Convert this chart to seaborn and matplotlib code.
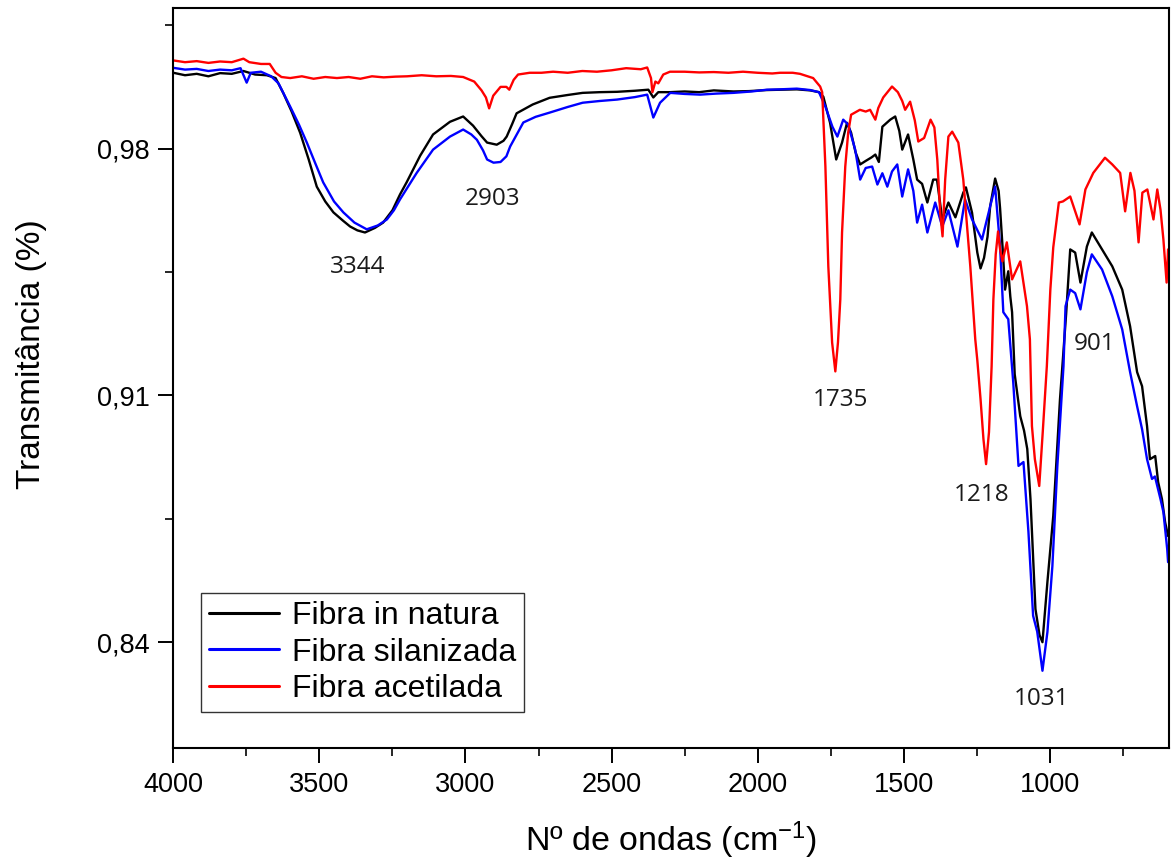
import matplotlib
matplotlib.use("Agg")
import matplotlib.pyplot as plt
import seaborn as sns
import pandas as pd
from matplotlib.ticker import FixedLocator, FuncFormatter

# ---------------- data ----------------
series_names = ["Fibra in natura", "Fibra silanizada", "Fibra acetilada"]
series_colors = ["#000000", "#0000FF", "#FF0000"]

wn_natura = [4000, 3960, 3920, 3880, 3840, 3800, 3760, 3720, 3680, 3650, 3624, 3595, 3566, 3537, 3509,
             3480, 3452, 3420, 3395, 3370, 3344, 3310, 3282, 3250, 3224, 3201, 3155, 3111, 3053, 3008,
             2974, 2945, 2926, 2893, 2870, 2859, 2840, 2825, 2770, 2712, 2650, 2599, 2540, 2481, 2420,
             2374, 2357, 2340, 2300, 2250, 2200, 2150, 2083, 2030, 1968, 1923, 1866, 1820, 1790, 1775,
             1752, 1731, 1711, 1694, 1680, 1665, 1649, 1630, 1610, 1597, 1585, 1573, 1546, 1529, 1515,
             1505, 1485, 1467, 1454, 1437, 1419, 1399, 1386, 1368, 1347, 1323, 1296, 1287, 1266, 1248,
             1237, 1225, 1213, 1204, 1187, 1175, 1170, 1160, 1153, 1142, 1135, 1129, 1120, 1101, 1088,
             1077, 1066, 1049, 1035, 1025, 1008, 988, 965, 944, 930, 913, 895, 873, 856, 821,
             786, 752, 725, 701, 684, 667, 657, 639, 629, 616, 605, 595]
t_natura = [1.0015, 1.0008, 1.0012, 1.0005, 1.0014, 1.0012, 1.0020, 1.0010, 1.0008, 1.0000, 0.9958, 0.9905, 0.9845, 0.9770, 0.9692,
            0.9650, 0.9619, 0.9596, 0.9579, 0.9568, 0.9562, 0.9575, 0.9590, 0.9625, 0.9670, 0.9705, 0.9780, 0.9840, 0.9876, 0.9891,
            0.9865, 0.9835, 0.9817, 0.9811, 0.9822, 0.9834, 0.9870, 0.9900, 0.9925, 0.9944, 0.9952, 0.9958, 0.9960, 0.9961, 0.9964,
            0.9967, 0.9945, 0.9960, 0.9960, 0.9962, 0.9960, 0.9965, 0.9962, 0.9963, 0.9966, 0.9967, 0.9968, 0.9965, 0.9960, 0.9947,
            0.9873, 0.9769, 0.9817, 0.9873, 0.9845, 0.9790, 0.9755, 0.9765, 0.9775, 0.9783, 0.9762, 0.9862, 0.9882, 0.9891, 0.9850,
            0.9797, 0.9840, 0.9769, 0.9712, 0.9700, 0.9647, 0.9712, 0.9712, 0.9599, 0.9647, 0.9605, 0.9675, 0.9690, 0.9618, 0.9505,
            0.9460, 0.9490, 0.9550, 0.9636, 0.9715, 0.9680, 0.9630, 0.9500, 0.9400, 0.9452, 0.9380, 0.9336, 0.9160, 0.9041, 0.9000,
            0.8948, 0.8806, 0.8494, 0.8420, 0.8400, 0.8571, 0.8758, 0.9089, 0.9330, 0.9514, 0.9505, 0.9420, 0.9522, 0.9562, 0.9514,
            0.9466, 0.9400, 0.9296, 0.9166, 0.9126, 0.9013, 0.8919, 0.8928, 0.8854, 0.8806, 0.8740, 0.8701]

wn_silan = [4000, 3960, 3920, 3880, 3840, 3800, 3770, 3749, 3735, 3700, 3665, 3640, 3600, 3570, 3543,
            3515, 3487, 3450, 3418, 3380, 3338, 3300, 3269, 3245, 3224, 3167, 3111, 3053, 3008, 2980,
            2961, 2940, 2926, 2904, 2880, 2860, 2847, 2802, 2760, 2712, 2650, 2599, 2540, 2481, 2420,
            2378, 2357, 2334, 2299, 2250, 2197, 2140, 2083, 2020, 1968, 1923, 1866, 1820, 1790, 1768,
            1744, 1727, 1707, 1690, 1666, 1649, 1630, 1608, 1590, 1573, 1556, 1540, 1522, 1505, 1485,
            1467, 1454, 1437, 1419, 1392, 1368, 1347, 1316, 1290, 1266, 1232, 1204, 1187, 1170, 1159,
            1142, 1125, 1107, 1090, 1073, 1057, 1043, 1025, 1008, 991, 974, 953, 946, 930, 913,
            895, 873, 856, 821, 786, 752, 725, 701, 684, 667, 650, 640, 621, 611, 598, 595]
t_silan = [1.0029, 1.0024, 1.0026, 1.0020, 1.0024, 1.0022, 1.0028, 0.9987, 1.0015, 1.0018, 1.0005, 0.9985, 0.9919, 0.9868, 0.9817,
           0.9760, 0.9704, 0.9650, 0.9619, 0.9590, 0.9571, 0.9582, 0.9599, 0.9625, 0.9656, 0.9731, 0.9797, 0.9834, 0.9854, 0.9840,
           0.9825, 0.9795, 0.9769, 0.9760, 0.9762, 0.9778, 0.9806, 0.9874, 0.9890, 0.9902, 0.9918, 0.9930, 0.9935, 0.9939, 0.9946,
           0.9953, 0.9888, 0.9930, 0.9958, 0.9955, 0.9953, 0.9956, 0.9958, 0.9962, 0.9967, 0.9968, 0.9970, 0.9966, 0.9960, 0.9919,
           0.9862, 0.9834, 0.9882, 0.9868, 0.9797, 0.9712, 0.9745, 0.9749, 0.9698, 0.9730, 0.9692, 0.9735, 0.9755, 0.9664, 0.9741,
           0.9680, 0.9590, 0.9641, 0.9562, 0.9647, 0.9579, 0.9625, 0.9522, 0.9656, 0.9599, 0.9542, 0.9636, 0.9692, 0.9522, 0.9336,
           0.9316, 0.9137, 0.8900, 0.8911, 0.8713, 0.8475, 0.8430, 0.8319, 0.8429, 0.8616, 0.8900, 0.9183, 0.9353, 0.9400, 0.9390,
           0.9344, 0.9449, 0.9500, 0.9457, 0.9381, 0.9287, 0.9166, 0.9069, 0.9004, 0.8919, 0.8863, 0.8870, 0.8806, 0.8769, 0.8664, 0.8627]

wn_acet = [4000, 3960, 3920, 3880, 3840, 3800, 3760, 3740, 3700, 3670, 3650, 3630, 3600, 3560, 3520,
           3480, 3440, 3400, 3360, 3320, 3280, 3240, 3200, 3150, 3100, 3050, 3008, 2970, 2945, 2930,
           2919, 2905, 2880, 2860, 2850, 2835, 2820, 2780, 2740, 2700, 2650, 2600, 2550, 2500, 2450,
           2400, 2378, 2365, 2360, 2350, 2340, 2323, 2300, 2250, 2200, 2150, 2100, 2050, 2000, 1950,
           1923, 1880, 1855, 1810, 1786, 1779, 1768, 1758, 1745, 1734, 1725, 1717, 1711, 1700, 1690,
           1680, 1650, 1630, 1615, 1597, 1587, 1570, 1540, 1520, 1505, 1495, 1478, 1462, 1450, 1430,
           1408, 1395, 1385, 1375, 1367, 1358, 1347, 1334, 1313, 1296, 1272, 1255, 1248, 1237, 1227,
           1218, 1208, 1199, 1193, 1185, 1177, 1170, 1162, 1147, 1129, 1101, 1078, 1068, 1061, 1051,
           1036, 1024, 1010, 998, 988, 969, 955, 930, 898, 878, 851, 811, 786, 759, 742,
           724, 710, 696, 683, 666, 645, 632, 621, 611, 600, 595]
t_acet = [1.0050, 1.0045, 1.0048, 1.0043, 1.0047, 1.0045, 1.0055, 1.0045, 1.0040, 1.0040, 1.0015, 1.0003, 1.0000, 1.0005, 0.9998,
          1.0003, 1.0000, 1.0003, 0.9998, 1.0005, 1.0002, 1.0004, 1.0005, 1.0008, 1.0005, 1.0006, 1.0003, 0.9990, 0.9965, 0.9945,
          0.9914, 0.9950, 0.9975, 0.9975, 0.9967, 0.9995, 1.0010, 1.0015, 1.0015, 1.0018, 1.0015, 1.0020, 1.0018, 1.0022, 1.0028,
          1.0025, 1.0030, 1.0000, 0.9960, 0.9990, 0.9985, 1.0010, 1.0018, 1.0018, 1.0016, 1.0017, 1.0015, 1.0018, 1.0015, 1.0013,
          1.0015, 1.0015, 1.0012, 1.0000, 0.9976, 0.9960, 0.9749, 0.9466, 0.9250, 0.9168, 0.9250, 0.9372, 0.9562, 0.9749, 0.9845,
          0.9896, 0.9910, 0.9905, 0.9910, 0.9882, 0.9915, 0.9945, 0.9976, 0.9960, 0.9935, 0.9910, 0.9933, 0.9880, 0.9820, 0.9830,
          0.9882, 0.9860, 0.9769, 0.9618, 0.9551, 0.9712, 0.9834, 0.9848, 0.9817, 0.9712, 0.9466, 0.9259, 0.9200, 0.9090, 0.8976,
          0.8905, 0.8996, 0.9183, 0.9372, 0.9500, 0.9565, 0.9514, 0.9480, 0.9534, 0.9429, 0.9480, 0.9353, 0.9259, 0.9013, 0.8919,
          0.8843, 0.8996, 0.9183, 0.9400, 0.9520, 0.9647, 0.9650, 0.9664, 0.9585, 0.9684, 0.9731, 0.9774, 0.9755, 0.9731, 0.9622,
          0.9731, 0.9680, 0.9534, 0.9675, 0.9684, 0.9599, 0.9684, 0.9627, 0.9542, 0.9420, 0.9514]

peak_labels = ["3344", "2903", "1735", "1218", "1031", "901"]
peak_label_x = [3369, 2909, 1717, 1234, 1029, 848]
peak_label_y = [0.9464, 0.9658, 0.9086, 0.8817, 0.8238, 0.9245]

x_major = [4000, 3500, 3000, 2500, 2000, 1500, 1000]
x_minor = [3750, 3250, 2750, 2250, 1750, 1250, 750]
y_major = [0.84, 0.91, 0.98]
y_minor = [0.875, 0.945, 1.015]

# ---------------- figure ----------------
sns.set_theme(style="ticks")
plt.rcParams["font.family"] = ["Liberation Sans", "DejaVu Sans"]
plt.rcParams["mathtext.fontset"] = "custom"
plt.rcParams["mathtext.rm"] = "Liberation Sans"
plt.rcParams["mathtext.it"] = "Liberation Sans:italic"
plt.rcParams["text.color"] = "black"
plt.rcParams["axes.labelcolor"] = "black"

frames = []
for name, wn, t in [(series_names[0], wn_natura, t_natura),
                    (series_names[1], wn_silan, t_silan),
                    (series_names[2], wn_acet, t_acet)]:
    frames.append(pd.DataFrame({"wn": wn, "T": t, "amostra": name}))
df = pd.concat(frames, ignore_index=True)

fig = plt.figure(figsize=(11.72, 8.67), dpi=100)
ax = fig.add_axes([0.1479, 0.1373, 0.9974 - 0.1479, 0.9913 - 0.1373])

sns.lineplot(data=df, x="wn", y="T", hue="amostra", hue_order=series_names,
             palette=dict(zip(series_names, series_colors)), sort=False,
             estimator=None, linewidth=1.7, ax=ax, legend=False)

ax.set_xlim(4000, 592)
ax.set_ylim(0.81, 1.02)

ax.xaxis.set_major_locator(FixedLocator(x_major))
ax.xaxis.set_minor_locator(FixedLocator(x_minor))
ax.yaxis.set_major_locator(FixedLocator(y_major))
ax.yaxis.set_minor_locator(FixedLocator(y_minor))
ax.yaxis.set_major_formatter(FuncFormatter(lambda v, p: f"{v:.2f}".replace(".", ",")))
ax.xaxis.set_major_formatter(FuncFormatter(lambda v, p: f"{int(round(v))}"))

ax.tick_params(axis="both", which="major", direction="out", length=11, width=1.4,
               labelsize=19.5, colors="black", pad=6)
ax.tick_params(axis="both", which="minor", direction="out", length=6, width=1.4)
ax.tick_params(top=False, right=False, which="both")
for s in ax.spines.values():
    s.set_visible(True)
    s.set_linewidth(1.5)
    s.set_color("black")

ax.set_xlabel("Nº de ondas (cm$^{-1}$)", fontsize=24.5, labelpad=16)
ax.set_ylabel("Transmitância (%)", fontsize=24)
ax.yaxis.set_label_coords(-0.127, 0.532)

for lbl, lx, ly in zip(peak_labels, peak_label_x, peak_label_y):
    ax.text(lx, ly, lbl, fontsize=17.5, family=["Open Sans", "DejaVu Sans"],
            ha="center", va="center", color="#1a1a1a")

handles = [plt.Line2D([], [], color=c, linewidth=2.2) for c in series_colors]
leg = ax.legend(handles, series_names, loc="lower left", bbox_to_anchor=(0.0278, 0.0486),
                borderaxespad=0, fontsize=23, frameon=True, fancybox=False,
                edgecolor="#333333", framealpha=1, handlelength=2.2, handletextpad=0.4,
                labelspacing=0.2, borderpad=0.25)
leg.get_frame().set_linewidth(1.0)

fig.savefig("out.png", dpi=100)
